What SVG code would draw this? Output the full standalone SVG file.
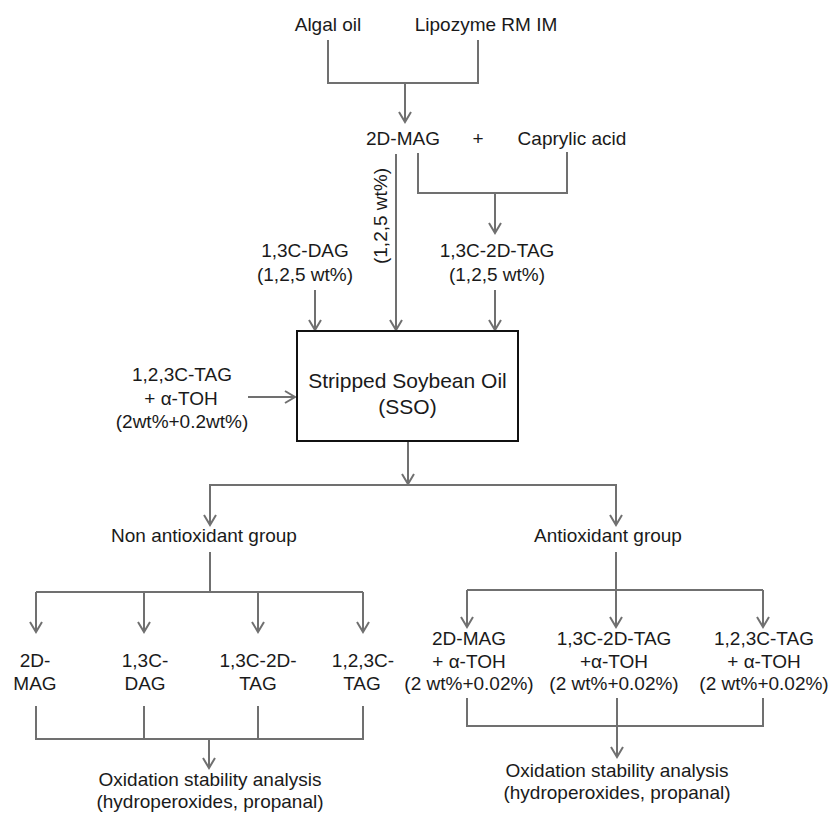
<svg xmlns="http://www.w3.org/2000/svg" width="831" height="814" viewBox="0 0 831 814">
<defs>
<style>
text{font-family:"Liberation Sans",Arial,sans-serif;font-size:19px;fill:#1a1a1a;text-anchor:middle}
.big{font-size:21px}
.c path,.c line{stroke:#707070;stroke-width:2;fill:none}
.a{marker-end:url(#ah)}
.box{fill:#fff;stroke:#111;stroke-width:2}
</style>
<marker id="ah" markerUnits="userSpaceOnUse" viewBox="-12 -7 14 14" refX="0" refY="0" markerWidth="14" markerHeight="14" orient="auto">
<path d="M-10,-6 L0,0 L-10,6" fill="none" stroke="#707070" stroke-width="2"/>
</marker>
</defs>
<g class="c" id="connectors">
<path d="M328,40 V83 H478 V40"/>
<line class="a" x1="405" y1="83" x2="405" y2="122"/>
<path d="M418,153 V193 H567 V152"/>
<line class="a" x1="495" y1="193" x2="495" y2="233"/>
<line class="a" x1="396" y1="154" x2="396" y2="330"/>
<line class="a" x1="315" y1="290" x2="315" y2="330"/>
<line class="a" x1="495" y1="290" x2="495" y2="330"/>
<line class="a" x1="248" y1="397" x2="295" y2="397"/>
<line class="a" x1="408" y1="442" x2="408" y2="484"/>
<path d="M210,486 V485 H616 V486"/>
<line class="a" x1="210" y1="485" x2="210" y2="525"/>
<line class="a" x1="616" y1="485" x2="616" y2="525"/>
<line x1="210" y1="552" x2="210" y2="592"/>
<path d="M36,592 H363"/>
<line class="a" x1="36" y1="592" x2="36" y2="632"/>
<line class="a" x1="144" y1="592" x2="144" y2="632"/>
<line class="a" x1="258" y1="592" x2="258" y2="632"/>
<line class="a" x1="363" y1="592" x2="363" y2="632"/>
<line class="a" x1="616" y1="552" x2="616" y2="627"/>
<path d="M467,590 H763"/>
<line class="a" x1="467" y1="590" x2="467" y2="627"/>
<line class="a" x1="763" y1="590" x2="763" y2="627"/>
<path d="M36,706 V739 H363 V706 M144,706 V739 M258,706 V739"/>
<line class="a" x1="209" y1="739" x2="209" y2="768"/>
<path d="M467,698 V726 H763 V698"/>
<line class="a" x1="617" y1="698" x2="617" y2="757"/>
</g>
<g id="algal-oil"><text x="328" y="31">Algal oil</text></g>
<g id="lipozyme"><text x="486" y="31">Lipozyme RM IM</text></g>
<g id="mag"><text x="403" y="145">2D-MAG</text></g>
<g id="plus"><text x="478" y="145">+</text></g>
<g id="caprylic"><text x="572" y="145">Caprylic acid</text></g>
<g id="mag-label"><text transform="translate(387,216) rotate(-90)">(1,2,5 wt%)</text></g>
<g id="dag"><text x="305" y="257">1,3C-DAG</text><text x="305" y="281">(1,2,5 wt%)</text></g>
<g id="tag2d"><text x="497" y="257">1,3C-2D-TAG</text><text x="497" y="281">(1,2,5 wt%)</text></g>
<g id="tag123"><text x="182" y="381">1,2,3C-TAG</text><text x="181" y="405">+ α-TOH</text><text x="182" y="428">(2wt%+0.2wt%)</text></g>
<g id="sso"><rect class="box" x="297" y="331" width="221" height="110"/><text class="big" x="407.5" y="388">Stripped Soybean Oil</text><text class="big" x="407.5" y="414">(SSO)</text></g>
<g id="non-antiox"><text x="204" y="542">Non antioxidant group</text></g>
<g id="antiox"><text x="608" y="542">Antioxidant group</text></g>
<g id="n-mag"><text x="35" y="667">2D-</text><text x="35" y="690">MAG</text></g>
<g id="n-dag"><text x="145" y="667">1,3C-</text><text x="145" y="690">DAG</text></g>
<g id="n-tag2d"><text x="258" y="667">1,3C-2D-</text><text x="258" y="690">TAG</text></g>
<g id="n-tag123"><text x="363" y="667">1,2,3C-</text><text x="362" y="690">TAG</text></g>
<g id="a-mag"><text x="469" y="645">2D-MAG</text><text x="469" y="668">+ α-TOH</text><text x="469" y="690">(2 wt%+0.02%)</text></g>
<g id="a-tag2d"><text x="614" y="645">1,3C-2D-TAG</text><text x="614" y="668">+α-TOH</text><text x="614" y="690">(2 wt%+0.02%)</text></g>
<g id="a-tag123"><text x="764" y="645">1,2,3C-TAG</text><text x="764" y="668">+ α-TOH</text><text x="764" y="690">(2 wt%+0.02%)</text></g>
<g id="ox-left"><text x="210" y="786">Oxidation stability analysis</text><text x="210" y="808">(hydroperoxides, propanal)</text></g>
<g id="ox-right"><text x="617" y="777">Oxidation stability analysis</text><text x="617" y="799">(hydroperoxides, propanal)</text></g>
</svg>
